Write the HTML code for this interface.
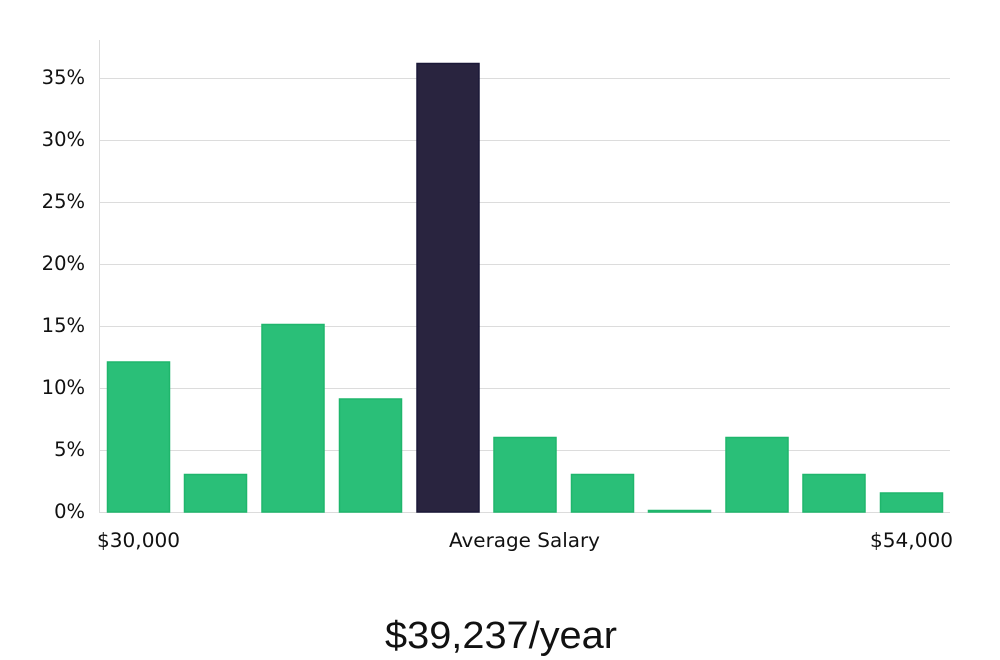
<!DOCTYPE html>
<html><head><meta charset="utf-8"><style>
html,body{margin:0;padding:0;background:#fff;}
svg{display:block;}
</style></head><body>
<svg width="1000" height="660" xmlns="http://www.w3.org/2000/svg" font-family="DejaVu Sans, Liberation Sans, sans-serif">
<g stroke="#dcdcdc" stroke-width="1">
<line x1="99" x2="950" y1="78.5" y2="78.5"/>
<line x1="99" x2="950" y1="140.5" y2="140.5"/>
<line x1="99" x2="950" y1="202.5" y2="202.5"/>
<line x1="99" x2="950" y1="264.5" y2="264.5"/>
<line x1="99" x2="950" y1="326.5" y2="326.5"/>
<line x1="99" x2="950" y1="388.5" y2="388.5"/>
<line x1="99" x2="950" y1="450.5" y2="450.5"/>
<line x1="99" x2="950" y1="512.5" y2="512.5"/>
<line x1="99.5" x2="99.5" y1="40" y2="512"/>
</g>
<g font-size="19.5" fill="#111" text-anchor="end">
<text x="85" y="84">35%</text>
<text x="85" y="146">30%</text>
<text x="85" y="208">25%</text>
<text x="85" y="270">20%</text>
<text x="85" y="332">15%</text>
<text x="85" y="394">10%</text>
<text x="85" y="456">5%</text>
<text x="85" y="518">0%</text>
</g>
<g fill="#2abf78" stroke="#1fb66c" stroke-width="1.5">
<rect x="107.5" y="362" width="62" height="150"/>
<rect x="184.5" y="474.5" width="62" height="37.5"/>
<rect x="262" y="324.5" width="62" height="187.5"/>
<rect x="339.5" y="399" width="62" height="113"/>
<rect x="494" y="437.5" width="62" height="74.5"/>
<rect x="571.5" y="474.5" width="62" height="37.5"/>
<rect x="648.5" y="510.5" width="62" height="1.5"/>
<rect x="726" y="437.5" width="62" height="74.5"/>
<rect x="803" y="474.5" width="62" height="37.5"/>
<rect x="880.5" y="493" width="62" height="19"/>
</g>
<rect x="417" y="63.5" width="62" height="448.5" fill="#29243f" stroke="#1b1838" stroke-width="1.5"/>
<g font-size="19.5" fill="#111">
<text x="97" y="547" textLength="83" lengthAdjust="spacingAndGlyphs">$30,000</text>
<text x="449" y="547" textLength="151" lengthAdjust="spacingAndGlyphs">Average Salary</text>
<text x="870" y="547" textLength="83" lengthAdjust="spacingAndGlyphs">$54,000</text>
</g>
<text x="385" y="648" font-size="38" fill="#111" textLength="232" lengthAdjust="spacingAndGlyphs" font-family="Liberation Sans Narrow, Liberation Sans, sans-serif">$39,237/year</text>
</svg>
</body></html>
